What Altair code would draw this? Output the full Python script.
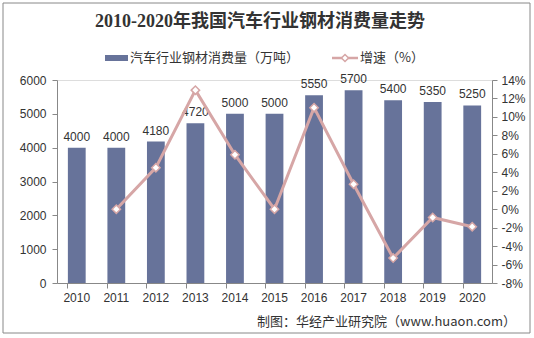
import altair as alt
import pandas as pd

years = ["2010", "2011", "2012", "2013", "2014", "2015", "2016", "2017", "2018", "2019", "2020"]
consumption = [4000, 4000, 4180, 4720, 5000, 5000, 5550, 5700, 5400, 5350, 5250]
growth = [None, 0.0, 4.5, 12.9, 5.9, 0.0, 11.0, 2.7, -5.3, -0.9, -1.9]

df = pd.DataFrame({"year": years, "value": consumption, "growth": growth})
dfl = df.dropna()

BAR = "#67739A"
LINE = "#D6A6A6"
TXT = "#333333"
FONT = "Liberation Sans"
CJK = "Noto Sans CJK SC"

x = alt.X("year:N", title=None, sort=years,
          scale=alt.Scale(paddingInner=0.55, paddingOuter=0.275),
          axis=alt.Axis(labelAngle=0, labelFontSize=12, labelColor=TXT, labelFont=FONT,
                        domainColor="#888888", tickColor="#888888", tickSize=5,
                        bandPosition=0, labelPadding=4))

yleft_axis = alt.Axis(values=[0, 1000, 2000, 3000, 4000, 5000, 6000], grid=False, format="d",
                      labelFontSize=12, labelColor=TXT, labelFont=FONT,
                      domainColor="#888888", tickColor="#888888", tickSize=5, labelPadding=6)
yleft = alt.Y("value:Q", title=None, scale=alt.Scale(domain=[0, 6000]), axis=yleft_axis)

bars = alt.Chart(df).mark_bar(color=BAR).encode(x=x, y=yleft)
labels = alt.Chart(df).mark_text(dy=-11, fontSize=12, color=TXT, font=FONT).encode(
    x=alt.X("year:N", sort=years), y=yleft, text=alt.Text("value:Q", format="d"))

left = alt.layer(bars, labels)

yright_axis = alt.Axis(orient="right", values=list(range(-8, 15, 2)),
                       labelExpr="datum.value + '%'", grid=False,
                       labelFontSize=12, labelColor=TXT, labelFont=FONT,
                       domainColor="#888888", tickColor="#888888", tickSize=5, labelPadding=4)
yright = alt.Y("growth:Q", title=None, scale=alt.Scale(domain=[-8, 14]), axis=yright_axis)
line = alt.Chart(dfl).mark_line(color=LINE, strokeWidth=3).encode(x=alt.X("year:N", sort=years), y=yright)
pts = alt.Chart(dfl).mark_point(shape="diamond", filled=True, fill="white", stroke=LINE,
                                strokeWidth=1.5, size=70, opacity=1).encode(
    x=alt.X("year:N", sort=years), y=yright)
right = alt.layer(line, pts)

one = pd.DataFrame({"a": [0]})
frame = alt.Chart(one).mark_rect(fill=None, stroke="#888888", strokeWidth=1).encode(
    x=alt.value(-54), x2=alt.value(473), y=alt.value(-77), y2=alt.value(253))
title = alt.Chart(one).mark_text(
    align="center", baseline="middle", fontSize=18, fontWeight="bold", color=TXT,
    font="Liberation Serif, Noto Sans CJK SC", text="2010-2020年我国汽车行业钢材消费量走势").encode(
    x=alt.value(203), y=alt.value(-58))
leg_bar = alt.Chart(one).mark_rect(color=BAR).encode(
    x=alt.value(48), x2=alt.value(71), y=alt.value(-25), y2=alt.value(-19))
leg_bar_t = alt.Chart(one).mark_text(
    align="left", baseline="middle", fontSize=13, color=TXT, font=CJK, text="汽车行业钢材消费量（万吨）").encode(
    x=alt.value(73), y=alt.value(-22))
leg_line = alt.Chart(one).mark_rule(color=LINE, strokeWidth=2.5).encode(
    x=alt.value(275), x2=alt.value(301), y=alt.value(-22))
leg_pt = alt.Chart(one).mark_point(
    shape="diamond", filled=True, fill="white", stroke=LINE, strokeWidth=1.5, size=50, opacity=1).encode(
    x=alt.value(288), y=alt.value(-22))
leg_line_t = alt.Chart(one).mark_text(
    align="left", baseline="middle", fontSize=13, color=TXT, font=CJK, text="增速（%）").encode(
    x=alt.value(303), y=alt.value(-22))
source = alt.Chart(one).mark_text(
    align="right", baseline="middle", fontSize=13, color=TXT, font=CJK,
    text="制图：华经产业研究院（www.huaon.com）").encode(x=alt.value(459), y=alt.value(242))

deco = alt.layer(frame, title, leg_bar, leg_bar_t, leg_line, leg_pt, leg_line_t, source)

chart = alt.layer(left, right, deco).resolve_scale(y="independent").properties(
    width=435, height=203,
    autosize=alt.AutoSizeParams(type="none"),
    padding={"left": 57, "top": 80, "right": 42, "bottom": 55},
).configure_view(stroke=None).configure(background="white")

chart.save("out.html", embed_options={"renderer": "svg", "actions": False})
